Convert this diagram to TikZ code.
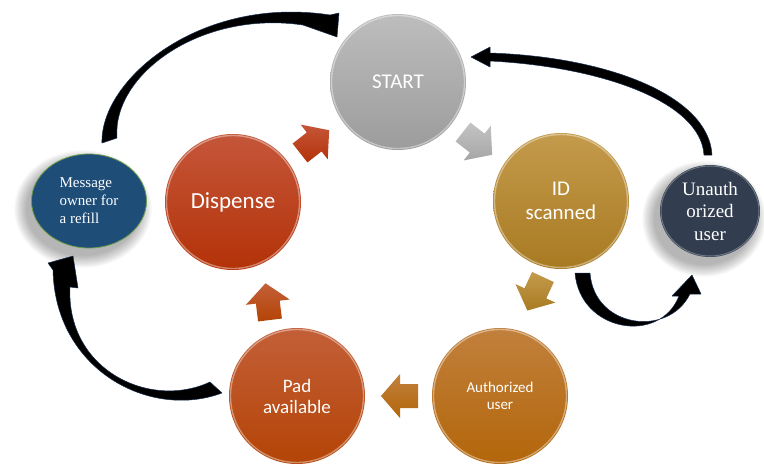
\documentclass[tikz,border=0pt]{standalone}
\usepackage{fontspec}
\setmainfont{Carlito}
\newfontfamily\serifface{Liberation Serif}
\usetikzlibrary{shapes.geometric}
\definecolor{startT}{HTML}{BDBDBD}\definecolor{startB}{HTML}{9C9C9C}
\definecolor{idT}{HTML}{C49B4C}\definecolor{idB}{HTML}{A87A22}
\definecolor{authT}{HTML}{C1803C}\definecolor{authB}{HTML}{B3660A}
\definecolor{padT}{HTML}{C35F38}\definecolor{padB}{HTML}{B44406}
\definecolor{dispT}{HTML}{C5563A}\definecolor{dispB}{HTML}{B33208}
\definecolor{unauthC}{HTML}{323D4F}
\definecolor{msgC}{HTML}{1E4D78}
\definecolor{msgBorder}{HTML}{6E9B4A}
\definecolor{curveEdge}{HTML}{1A3050}
\tikzset{
  ball/.style={circle, minimum size=136pt, inner sep=0pt, text=white, align=center},
  oval/.style={ellipse, inner sep=0pt, text=white},
  curvearrow/.style={fill=black, draw=curveEdge, line width=0.5pt, line join=round},
}
\newcommand\blkarrow[5]{%
  \shade[top color=#4, bottom color=#5, shift={(#1,#2)}, rotate=#3]
    (0,-12) -- (18,-12) -- (18,-22) -- (37,0) -- (18,22) -- (18,12) -- (0,12) -- cycle;}
\begin{document}
\begin{tikzpicture}[x=1pt,y=-1pt]
\useasboundingbox (0,0) rectangle (764,466);
\fill[white] (0,0) rectangle (764,466);

% soft shadows of the ovals
\foreach \i in {0,...,9}{
  \fill[black, opacity=0.03] (83,209) ellipse ({57+\i*1.3} and {47+\i*1.3});
  \fill[black, opacity=0.03] (704,219) ellipse ({50+\i*1.3} and {46+\i*1.3});
}

% circles
\node[ball, top color=startT, bottom color=startB, font=\fontsize{21}{24}\selectfont] (start) at (398,82) {START};
\node[ball, top color=idT, bottom color=idB, font=\fontsize{21}{24}\selectfont] (id) at (561,201) {ID\\scanned};
\node[ball, top color=authT, bottom color=authB, font=\fontsize{15}{17}\selectfont] (auth) at (500,396) {Authorized\\user};
\node[ball, top color=padT, bottom color=padB, font=\fontsize{19}{21}\selectfont] (pad) at (297,396) {Pad\\available};
\node[ball, top color=dispT, bottom color=dispB, font=\fontsize{23}{26}\selectfont] (disp) at (233,202) {Dispense};

\foreach \n in {start,id,auth,pad,disp}
  \draw[white, opacity=0.4, line width=1.4pt] (\n.center) circle (66.5);

% ovals
\node[oval, fill=unauthC, minimum width=100pt, minimum height=92pt, align=center,
      font=\serifface\fontsize{19}{22.5}\selectfont] (unauth) at (710,211) {Unauth\\orized\\user};
\draw[white, opacity=0.3, line width=1pt] (unauth.center) ellipse (49 and 45);
\node[oval, fill=msgC, draw=msgBorder, line width=0.8pt, minimum width=115pt, minimum height=94pt, align=left,
      font=\serifface\fontsize{15}{18}\selectfont] (msg) at (89,201) {Message\\owner for\\a refill};

% block arrows between the circles
\blkarrow{300}{153}{38}{dispT}{dispB}
\blkarrow{463}{132}{-38}{startT!90!white}{startB!90!white}
\blkarrow{543}{277}{-115}{idT}{idB}
\blkarrow{418}{396}{180}{authT}{authB}
\blkarrow{270}{320}{97}{padT}{padB}

% curved black arrows
% message -> start
\path[curvearrow] (102,143) .. controls (100,80) and (200,-5) .. (330,15)
   -- (339,13) -- (337,37) -- (303,25)
   .. controls (200,10) and (112,75) .. (117,138) -- cycle;
% unauthorized -> start
\path[curvearrow] (704,155) -- (712,155) .. controls (709,97) and (611,57) .. (490,53)
   -- (490,47) -- (471,57) -- (490,67) -- (490,61)
   .. controls (605,67) and (701,103) .. (704,155) -- cycle;
% id -> unauthorized
\path[curvearrow] (575,273) .. controls (580,332) and (660,345) .. (679,296)
   -- (672,296) -- (692,275) -- (701,294) -- (690,294)
   .. controls (668,338) and (594,328) .. (590,273) -- cycle;
% pad -> message
\path[curvearrow] (222,393) .. controls (150,420) and (55,370) .. (53,270)
   -- (48,263) -- (73,256) -- (78,288) -- (70,287)
   .. controls (66,370) and (150,410) .. (210,382) -- cycle;
\end{tikzpicture}
\end{document}
